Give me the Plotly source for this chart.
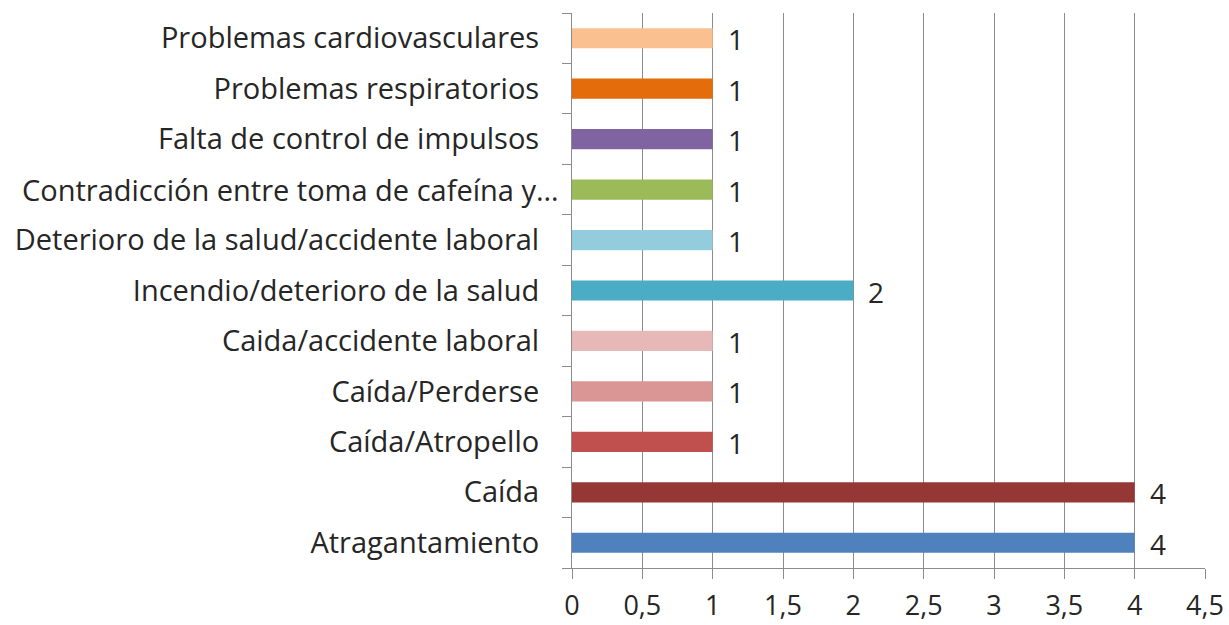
import plotly.graph_objects as go

categories = [
    "Atragantamiento",
    "Caída",
    "Caída/Atropello",
    "Caída/Perderse",
    "Caida/accidente laboral",
    "Incendio/deterioro de la salud",
    "Deterioro de la salud/accidente laboral",
    "Contradicción entre toma de cafeína y…",
    "Falta de control de impulsos",
    "Problemas respiratorios",
    "Problemas cardiovasculares",
]
values = [4, 4, 1, 1, 1, 2, 1, 1, 1, 1, 1]
colors = [
    "#4F81BD", "#953735", "#C0504D", "#D99694", "#E6B9B8",
    "#4BACC6", "#93CDDD", "#9BBB59", "#8064A2", "#E46C0A", "#FAC090",
]
x_ticks = [0, 0.5, 1, 1.5, 2, 2.5, 3, 3.5, 4, 4.5]
truncated_label = "Contradicción entre toma de cafeína y…"

font_family = "'Open Sans', sans-serif"
text_color = "#262626"

fig = go.Figure(
    go.Bar(
        y=categories,
        x=values,
        orientation="h",
        marker=dict(color=colors, line=dict(width=0)),
        hoverinfo="x+y",
    )
)

for cat, val in zip(categories, values):
    fig.add_annotation(
        x=val, y=cat, text=str(val), showarrow=False,
        xanchor="left", xshift=13, yshift=-1,
        font=dict(size=28, color=text_color, family=font_family),
    )

# the truncated (ellipsis) label sits closer to the axis, as in the original
fig.add_annotation(
    x=0, xref="paper", y=truncated_label, yref="y",
    text=truncated_label, showarrow=False,
    xanchor="right", xshift=-11, yshift=0,
    font=dict(size=29, color=text_color, family=font_family),
)

fig.update_layout(
    width=1229,
    height=625,
    margin=dict(l=572, r=24, t=13, b=57),
    paper_bgcolor="white",
    plot_bgcolor="white",
    separators=",.",
    bargap=0.6,
    showlegend=False,
    font=dict(family=font_family, size=28, color=text_color),
)

fig.update_xaxes(
    range=[0, 4.5],
    tickvals=x_ticks,
    ticktext=[str(t).replace(".", ",") if t % 1 else str(int(t)) for t in x_ticks],
    showgrid=True,
    gridcolor="#8C8C8C",
    gridwidth=1,
    zeroline=False,
    showline=True,
    linecolor="#8C8C8C",
    ticks="outside",
    ticklen=10,
    tickcolor="#8C8C8C",
    tickfont=dict(size=27),
    ticklabelstandoff=4,
    automargin=False,
)

fig.update_yaxes(
    type="category",
    categoryorder="array",
    categoryarray=categories,
    tickvals=categories,
    ticktext=["" if c == truncated_label else c for c in categories],
    showline=True,
    linecolor="#8C8C8C",
    ticks="outside",
    tickson="boundaries",
    ticklen=9,
    tickcolor="#8C8C8C",
    showgrid=False,
    tickfont=dict(size=29),
    ticklabelstandoff=26,
    automargin=False,
)

fig.write_html(
    "out.html",
    config={"displayModeBar": False},
    post_script="document.body.style.margin='0';document.body.style.overflow='hidden';",
)
